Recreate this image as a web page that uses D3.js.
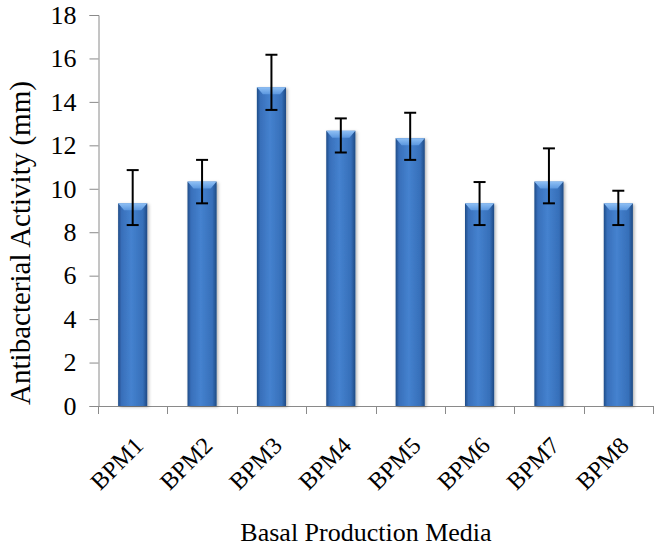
<!DOCTYPE html>
<html>
<head>
<meta charset="utf-8">
<script src="https://cdn.jsdelivr.net/npm/d3@7"></script>
<style>
  body { margin: 0; background: #fff; }
  svg text { font-family: "Liberation Serif", "DejaVu Serif", serif !important; fill: #000; }
</style>
</head>
<body>
<div id="chart"></div>
<script>
// values
var media     = ["BPM1", "BPM2", "BPM3", "BPM4", "BPM5", "BPM6", "BPM7", "BPM8"];
var activity  = [9.33, 10.33, 14.67, 12.67, 12.33, 9.33, 10.33, 9.33];
var errUp     = [1.53, 1.0, 1.5, 0.57, 1.17, 0.98, 1.53, 0.58];
var errDown   = [1.0, 1.0, 1.04, 1.0, 1.0, 1.0, 1.0, 1.0];
var yTicks    = [0, 2, 4, 6, 8, 10, 12, 14, 16, 18];

var width = 661, height = 550;
var plotLeft = 98, plotRight = 653, plotTop = 15, plotBottom = 406;
var serif = "'Liberation Serif', 'DejaVu Serif', serif";

var data = media.map(function(m, i){
	return {name: m, value: activity[i], up: errUp[i], down: errDown[i]};
});

var svg = d3.select("#chart").append("svg")
	.attr("width", width)
	.attr("height", height)
	.attr("font-family", serif);

var defs = svg.append("defs");
var grad = defs.append("linearGradient").attr("id", "barGrad")
	.attr("x1", "0%").attr("x2", "100%").attr("y1", "0%").attr("y2", "0%");
[["0%", "#1f4c88"], ["12%", "#386fba"], ["45%", "#4582cf"], ["85%", "#366fb9"], ["100%", "#1e4a84"]]
	.forEach(function(s){ grad.append("stop").attr("offset", s[0]).attr("stop-color", s[1]); });

var bevel = defs.append("linearGradient").attr("id", "bevelGrad")
	.attr("x1", "0%").attr("x2", "0%").attr("y1", "0%").attr("y2", "100%");
[["0%", "#8fc0f5"], ["100%", "#5b97df"]]
	.forEach(function(s){ bevel.append("stop").attr("offset", s[0]).attr("stop-color", s[1]); });

var shadow = defs.append("filter").attr("id", "shadow")
	.attr("x", "-30%").attr("y", "-10%").attr("width", "160%").attr("height", "120%");
shadow.append("feDropShadow").attr("dx", 1.5).attr("dy", 1).attr("stdDeviation", 1.5)
	.attr("flood-color", "#000").attr("flood-opacity", 0.3);

var x = d3.scaleBand()
	.domain(media)
	.range([plotLeft, plotRight])
	.paddingInner(0.58)
	.paddingOuter(0.29);

var y = d3.scaleLinear()
	.domain([0, 18])
	.range([plotBottom, plotTop]);

// y axis
var yAxis = d3.axisLeft(y).tickValues(yTicks).tickSize(9).tickPadding(13);
var gy = svg.append("g")
	.attr("transform", "translate(" + (plotLeft + 0.5) + ",0)")
	.call(yAxis)
	.attr("font-family", serif)
	.attr("font-size", 26);
gy.selectAll("path, line").attr("stroke", "#8a8a8a");

// x axis line and boundary ticks
var gx = svg.append("g").attr("class", "x axis");
gx.append("line")
	.attr("x1", plotLeft).attr("x2", plotRight)
	.attr("y1", plotBottom + 0.5).attr("y2", plotBottom + 0.5)
	.attr("stroke", "#8a8a8a");
var bounds = media.map(function(m){ return x(m) - x.step() * x.paddingInner() / 2; });
bounds.push(plotRight);
gx.selectAll("line.tick").data(bounds).enter().append("line")
	.attr("class", "tick")
	.attr("x1", function(d){ return Math.round(d) + 0.5; })
	.attr("x2", function(d){ return Math.round(d) + 0.5; })
	.attr("y1", plotBottom).attr("y2", plotBottom + 8)
	.attr("stroke", "#8a8a8a");

gx.selectAll("text.lab").data(media).enter().append("text")
	.attr("class", "lab")
	.attr("text-anchor", "end")
	.attr("font-size", 24)
	.attr("transform", function(d){
		return "translate(" + (x(d) + x.bandwidth() / 2 + 12) + "," + 447 + ") rotate(-45)";
	})
	.text(function(d){ return d; });

// bars
var bars = svg.selectAll("g.bar").data(data).enter().append("g").attr("class", "bar");

bars.append("rect")
	.attr("x", function(d){ return x(d.name); })
	.attr("y", function(d){ return y(d.value); })
	.attr("width", x.bandwidth())
	.attr("height", function(d){ return y(0) - y(d.value); })
	.attr("fill", "url(#barGrad)")
	.attr("filter", "url(#shadow)");

bars.append("polygon")
	.attr("points", function(d){
		var x0 = x(d.name), x1 = x0 + x.bandwidth(), y0 = y(d.value);
		return [[x0, y0], [x1, y0], [x1 - 6, y0 + 7], [x0 + 6, y0 + 7]].join(" ");
	})
	.attr("fill", "url(#bevelGrad)");

// error bars
var err = svg.selectAll("g.err").data(data).enter().append("g").attr("class", "err")
	.attr("stroke", "#000").attr("stroke-width", 2);
var cx = function(d){ return x(d.name) + x.bandwidth() / 2; };
err.append("line")
	.attr("x1", cx).attr("x2", cx)
	.attr("y1", function(d){ return y(d.value + d.up); })
	.attr("y2", function(d){ return y(d.value - d.down); });
err.append("line")
	.attr("x1", function(d){ return cx(d) - 6; }).attr("x2", function(d){ return cx(d) + 6; })
	.attr("y1", function(d){ return y(d.value + d.up); })
	.attr("y2", function(d){ return y(d.value + d.up); });
err.append("line")
	.attr("x1", function(d){ return cx(d) - 6; }).attr("x2", function(d){ return cx(d) + 6; })
	.attr("y1", function(d){ return y(d.value - d.down); })
	.attr("y2", function(d){ return y(d.value - d.down); });

// axis titles
svg.append("text")
	.attr("text-anchor", "middle")
	.attr("font-size", 29)
	.attr("transform", "translate(30," + 243 + ") rotate(-90)")
	.text("Antibacterial Activity (mm)");

svg.append("text")
	.attr("x", 366)
	.attr("y", 541)
	.attr("text-anchor", "middle")
	.attr("font-size", 26)
	.text("Basal Production Media");
</script>
</body>
</html>
